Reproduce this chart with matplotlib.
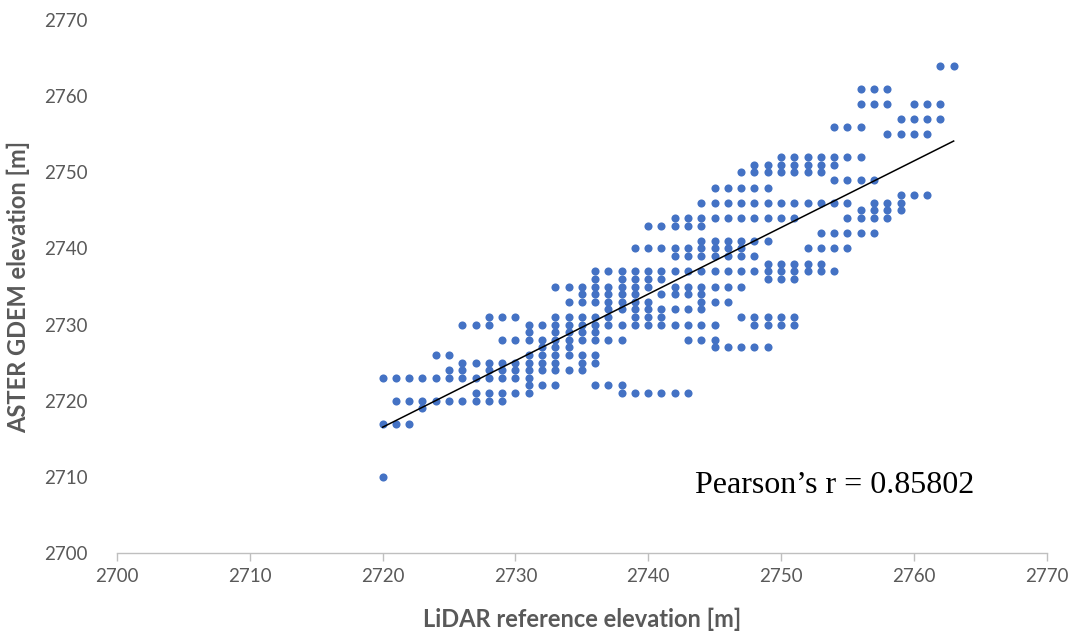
import matplotlib.pyplot as plt
import numpy as np

# LiDAR reference elevation (x) and the ASTER GDEM values seen at each x
lidar_values = list(range(2720, 2764))
aster_groups = [
    [2723, 2717, 2710],                                                  # 2720
    [2723, 2720, 2717],                                                  # 2721
    [2723, 2720, 2717],                                                  # 2722
    [2723, 2720, 2719],                                                  # 2723
    [2726, 2723, 2720],                                                  # 2724
    [2726, 2724, 2723, 2720],                                            # 2725
    [2730, 2725, 2724, 2723, 2720],                                      # 2726
    [2730, 2725, 2723, 2721, 2720],                                      # 2727
    [2731, 2730, 2725, 2724, 2723, 2721, 2720],                          # 2728
    [2731, 2728, 2725, 2724, 2723, 2721, 2720],                          # 2729
    [2731, 2728, 2725, 2724, 2723, 2721],                                # 2730
    [2730, 2729, 2728, 2726, 2725, 2724, 2723, 2722, 2721],              # 2731
    [2730, 2728, 2727, 2726, 2725, 2724, 2722],                          # 2732
    [2735, 2731, 2730, 2729, 2728, 2727, 2726, 2725, 2724, 2722],        # 2733
    [2735, 2733, 2731, 2730, 2729, 2728, 2727, 2726, 2724],              # 2734
    [2735, 2734, 2733, 2731, 2730, 2729, 2728, 2726, 2725, 2724],        # 2735
    [2737, 2736, 2735, 2734, 2733, 2731, 2730, 2729, 2728, 2726, 2725, 2722],  # 2736
    [2737, 2735, 2734, 2733, 2732, 2731, 2730, 2728, 2722],              # 2737
    [2737, 2736, 2735, 2734, 2733, 2732, 2730, 2728, 2722, 2721],        # 2738
    [2740, 2737, 2736, 2735, 2734, 2733, 2732, 2731, 2730, 2721],        # 2739
    [2743, 2740, 2737, 2736, 2735, 2733, 2732, 2731, 2730, 2721],        # 2740
    [2743, 2740, 2737, 2736, 2734, 2732, 2731, 2730, 2721],              # 2741
    [2744, 2743, 2740, 2739, 2737, 2735, 2734, 2732, 2730, 2721],        # 2742
    [2744, 2743, 2740, 2739, 2737, 2735, 2734, 2732, 2730, 2728, 2721],  # 2743
    [2746, 2744, 2743, 2741, 2740, 2739, 2737, 2735, 2734, 2733, 2732, 2730, 2728],  # 2744
    [2748, 2746, 2744, 2741, 2740, 2739, 2737, 2735, 2733, 2730, 2728, 2727],  # 2745
    [2748, 2746, 2744, 2741, 2740, 2739, 2737, 2735, 2733, 2727],        # 2746
    [2750, 2748, 2746, 2744, 2741, 2740, 2739, 2737, 2735, 2731, 2727],  # 2747
    [2751, 2750, 2748, 2746, 2744, 2741, 2739, 2737, 2731, 2730, 2727],  # 2748
    [2751, 2750, 2748, 2746, 2744, 2741, 2738, 2737, 2736, 2731, 2730, 2727],  # 2749
    [2752, 2751, 2750, 2746, 2744, 2738, 2737, 2736, 2731, 2730],        # 2750
    [2752, 2751, 2750, 2746, 2744, 2738, 2737, 2736, 2731, 2730],        # 2751
    [2752, 2751, 2750, 2746, 2740, 2738, 2737],                          # 2752
    [2752, 2751, 2750, 2746, 2742, 2740, 2738, 2737],                    # 2753
    [2756, 2752, 2751, 2749, 2746, 2742, 2740, 2737],                    # 2754
    [2756, 2752, 2749, 2746, 2744, 2742, 2740],                          # 2755
    [2761, 2759, 2756, 2752, 2749, 2745, 2744, 2742],                    # 2756
    [2761, 2759, 2749, 2746, 2745, 2744, 2742],                          # 2757
    [2761, 2759, 2755, 2746, 2745, 2744],                                # 2758
    [2757, 2755, 2747, 2746, 2745],                                      # 2759
    [2759, 2757, 2755, 2747],                                            # 2760
    [2759, 2757, 2755, 2747],                                            # 2761
    [2764, 2759, 2757],                                                  # 2762
    [2764],                                                              # 2763
]
pearson_text = 'Pearson\u2019s r = 0.85802'

x = np.array([lx for lx, g in zip(lidar_values, aster_groups) for _ in g], dtype=float)
y = np.array([v for g in aster_groups for v in g], dtype=float)

gray = '#595959'
plt.rcParams['font.family'] = ['Lato', 'DejaVu Sans']

fig = plt.figure(figsize=(10.83, 6.39), dpi=100)
ax = fig.add_axes([117 / 1083, 1 - 553 / 639, (1046.6 - 117) / 1083, (553 - 20) / 639])

ax.scatter(x, y, s=34, color='#4472C4', linewidths=0, zorder=3)

# linear trendline over the data range
slope, intercept = np.polyfit(x, y, 1)
xs = np.array([x.min(), x.max()])
ax.plot(xs, slope * xs + intercept, color='black', lw=1.1, zorder=4)

ax.set_xlim(2700, 2770)
ax.set_ylim(2700, 2770)
ax.set_xticks(np.arange(2700, 2771, 10))
ax.set_yticks(np.arange(2700, 2771, 10))

for side in ['top', 'right', 'left']:
    ax.spines[side].set_visible(False)
ax.spines['bottom'].set_color('#BFBFBF')
ax.spines['bottom'].set_linewidth(1.0)
ax.tick_params(axis='x', direction='out', length=6, width=1.0, color='#BFBFBF',
               labelsize=13.5, labelcolor=gray, pad=5)
ax.tick_params(axis='y', length=0, labelsize=13.5, labelcolor=gray, pad=21)

ax.set_xlabel('LiDAR reference elevation [m]', fontsize=17, fontweight='bold',
              color=gray, labelpad=16)
ax.set_ylabel('ASTER GDEM elevation [m]', fontsize=17, fontweight='bold',
              color=gray, labelpad=10)

ax.text(2743.5, 2708.8, pearson_text, fontsize=23, family='Liberation Serif',
        va='center', ha='left', color='black')

fig.savefig('out.png', dpi=100)
